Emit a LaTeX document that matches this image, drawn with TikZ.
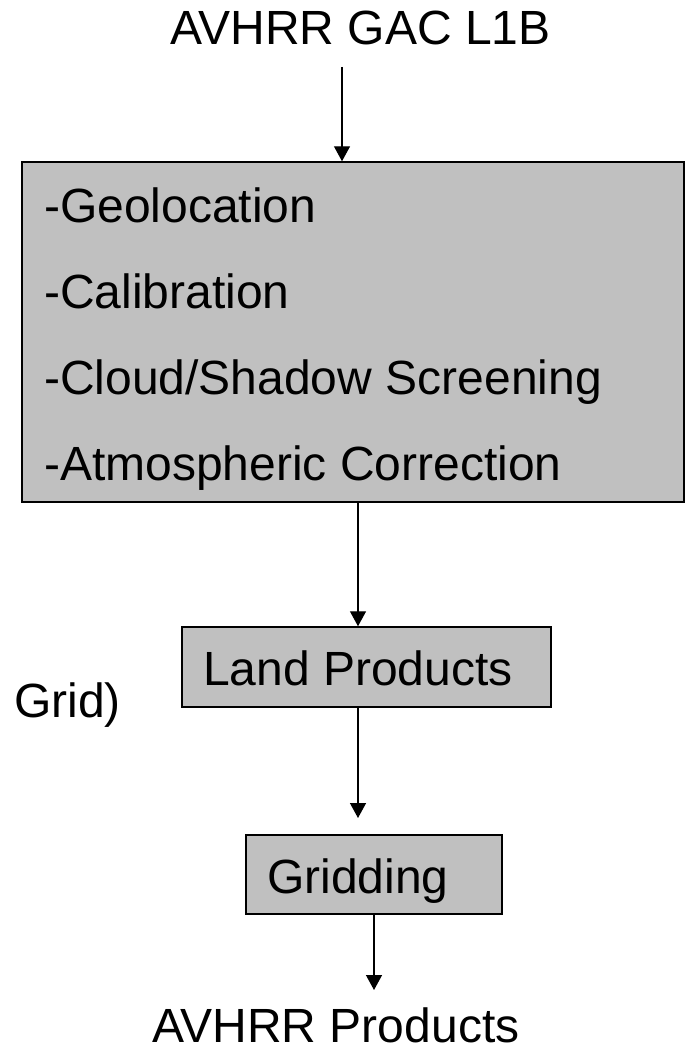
\documentclass[tikz,border=0pt]{standalone}
\usepackage{fontspec}
\setmainfont{Liberation Sans}
\usetikzlibrary{arrows.meta}
\definecolor{boxgray}{RGB}{192,192,192}
\tikzset{
  txt/.style={anchor=base west, inner sep=0pt, font=\fontsize{48}{58}\selectfont},
  gbox/.style={draw=black, line width=1.5pt, fill=boxgray, inner sep=0pt},
  arr/.style={line width=1.4pt, -{Triangle[length=15pt,width=16pt]}}
}
\begin{document}
\begin{tikzpicture}[x=1pt,y=-1pt]
\useasboundingbox (0,0) rectangle (696,1054);
% title
\node[txt] (title) at (170,45) {AVHRR GAC L1B};
% big box
\node[gbox, minimum width=662pt, minimum height=340pt] (big) at (353,332) {};
\node[txt] (l1) at (44,222) {-Geolocation};
\node[txt] (l2) at (44,308) {-Calibration};
\node[txt] (l3) at (44,394) {-Cloud/Shadow Screening};
\node[txt] (l4) at (44,480) {-Atmospheric Correction};
% land products
\node[gbox, minimum width=369pt, minimum height=80pt] (land) at (366.5,667) {};
\node[txt] (landt) at (203,685) {Land Products};
% grid label
\node[txt] (gridl) at (14,717) {Grid)};
% gridding
\node[gbox, minimum width=256pt, minimum height=79pt] (gridding) at (374,874.5) {};
\node[txt] (griddingt) at (267,893) {Gridding};
% output
\node[txt] (out) at (152,1042) {AVHRR Products};
% connectors
\coordinate (a1s) at (342,67);
\draw[arr] (a1s) -- (a1s |- big.north);
\coordinate (a2x) at (358,0);
\draw[arr] (a2x |- big.south) -- (a2x |- land.north);
\coordinate (a3e) at (358,818);
\draw[arr] (a3e |- land.south) -- (a3e);
\coordinate (a4e) at (374,990);
\draw[arr] (a4e |- gridding.south) -- (a4e);
\end{tikzpicture}
\end{document}
